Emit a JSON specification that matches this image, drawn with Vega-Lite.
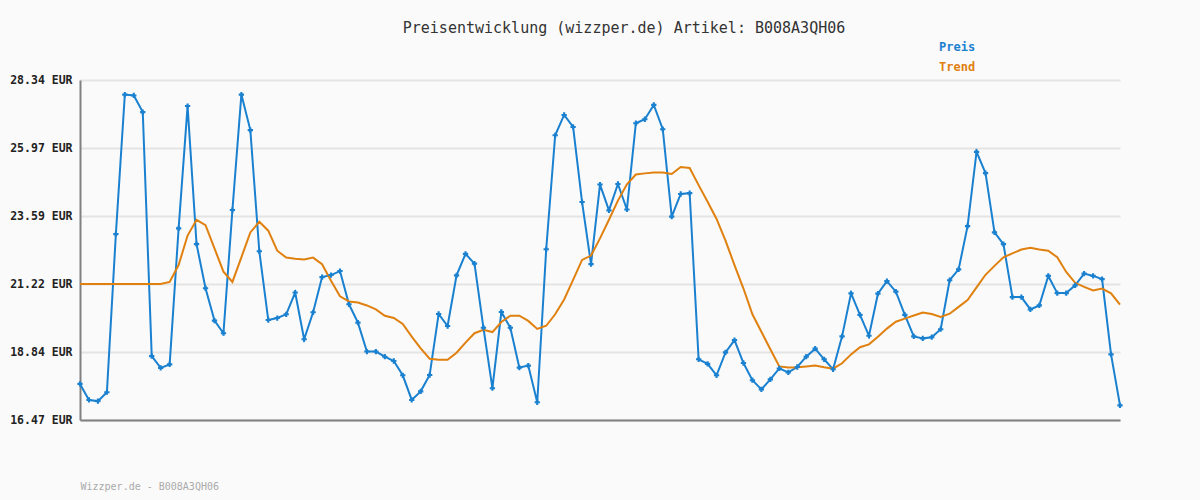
{
  "$schema": "https://vega.github.io/schema/vega-lite/v6.json",
  "autosize": "none",
  "width": 1040,
  "height": 340,
  "padding": {"left": 80, "top": 80, "right": 80, "bottom": 80},
  "background": "#fafafa",
  "title": {
    "text": "Preisentwicklung (wizzper.de) Artikel: B008A3QH06",
    "font": "DejaVu Sans Mono",
    "fontSize": 15,
    "fontWeight": "normal",
    "color": "#333333",
    "anchor": "middle",
    "dx": 24,
    "dy": -5,
    "offset": 0
  },
  "config": {
    "view": {"stroke": null},
    "axis": {"labelFont": "DejaVu Sans Mono", "titleFont": "DejaVu Sans Mono"}
  },
  "data": {
    "values": [
      {"i":0,"Preis":17.73,"Trend":21.22},
      {"i":1,"Preis":17.17,"Trend":21.22},
      {"i":2,"Preis":17.13,"Trend":21.22},
      {"i":3,"Preis":17.44,"Trend":21.22},
      {"i":4,"Preis":22.96,"Trend":21.22},
      {"i":5,"Preis":27.83,"Trend":21.22},
      {"i":6,"Preis":27.80,"Trend":21.22},
      {"i":7,"Preis":27.22,"Trend":21.22},
      {"i":8,"Preis":18.70,"Trend":21.22},
      {"i":9,"Preis":18.29,"Trend":21.22},
      {"i":10,"Preis":18.41,"Trend":21.29},
      {"i":11,"Preis":23.16,"Trend":21.88},
      {"i":12,"Preis":27.43,"Trend":22.91},
      {"i":13,"Preis":22.61,"Trend":23.46},
      {"i":14,"Preis":21.07,"Trend":23.27},
      {"i":15,"Preis":19.94,"Trend":22.46},
      {"i":16,"Preis":19.50,"Trend":21.65},
      {"i":17,"Preis":23.80,"Trend":21.29},
      {"i":18,"Preis":27.83,"Trend":22.15},
      {"i":19,"Preis":26.59,"Trend":23.02},
      {"i":20,"Preis":22.36,"Trend":23.39},
      {"i":21,"Preis":19.96,"Trend":23.08},
      {"i":22,"Preis":20.03,"Trend":22.38},
      {"i":23,"Preis":20.16,"Trend":22.14},
      {"i":24,"Preis":20.92,"Trend":22.10},
      {"i":25,"Preis":19.29,"Trend":22.07},
      {"i":26,"Preis":20.23,"Trend":22.14},
      {"i":27,"Preis":21.46,"Trend":21.91},
      {"i":28,"Preis":21.53,"Trend":21.33},
      {"i":29,"Preis":21.67,"Trend":20.79},
      {"i":30,"Preis":20.51,"Trend":20.61},
      {"i":31,"Preis":19.87,"Trend":20.57},
      {"i":32,"Preis":18.86,"Trend":20.47},
      {"i":33,"Preis":18.86,"Trend":20.33},
      {"i":34,"Preis":18.68,"Trend":20.11},
      {"i":35,"Preis":18.53,"Trend":20.03},
      {"i":36,"Preis":18.03,"Trend":19.82},
      {"i":37,"Preis":17.17,"Trend":19.38},
      {"i":38,"Preis":17.47,"Trend":18.97},
      {"i":39,"Preis":18.04,"Trend":18.61},
      {"i":40,"Preis":20.17,"Trend":18.57},
      {"i":41,"Preis":19.75,"Trend":18.57},
      {"i":42,"Preis":21.52,"Trend":18.82},
      {"i":43,"Preis":22.27,"Trend":19.17},
      {"i":44,"Preis":21.93,"Trend":19.50},
      {"i":45,"Preis":19.69,"Trend":19.62},
      {"i":46,"Preis":17.58,"Trend":19.54},
      {"i":47,"Preis":20.24,"Trend":19.89},
      {"i":48,"Preis":19.69,"Trend":20.11},
      {"i":49,"Preis":18.30,"Trend":20.11},
      {"i":50,"Preis":18.37,"Trend":19.93},
      {"i":51,"Preis":17.09,"Trend":19.65},
      {"i":52,"Preis":22.43,"Trend":19.76},
      {"i":53,"Preis":26.41,"Trend":20.16},
      {"i":54,"Preis":27.12,"Trend":20.68},
      {"i":55,"Preis":26.70,"Trend":21.36},
      {"i":56,"Preis":24.08,"Trend":22.06},
      {"i":57,"Preis":21.91,"Trend":22.21},
      {"i":58,"Preis":24.69,"Trend":22.81},
      {"i":59,"Preis":23.79,"Trend":23.46},
      {"i":60,"Preis":24.71,"Trend":24.13},
      {"i":61,"Preis":23.82,"Trend":24.70},
      {"i":62,"Preis":26.83,"Trend":25.04},
      {"i":63,"Preis":26.97,"Trend":25.08},
      {"i":64,"Preis":27.47,"Trend":25.11},
      {"i":65,"Preis":26.62,"Trend":25.11},
      {"i":66,"Preis":23.57,"Trend":25.06},
      {"i":67,"Preis":24.36,"Trend":25.30},
      {"i":68,"Preis":24.39,"Trend":25.27},
      {"i":69,"Preis":18.59,"Trend":24.67},
      {"i":70,"Preis":18.43,"Trend":24.09},
      {"i":71,"Preis":18.03,"Trend":23.49},
      {"i":72,"Preis":18.83,"Trend":22.73},
      {"i":73,"Preis":19.26,"Trend":21.88},
      {"i":74,"Preis":18.46,"Trend":21.06},
      {"i":75,"Preis":17.86,"Trend":20.16},
      {"i":76,"Preis":17.54,"Trend":19.55},
      {"i":77,"Preis":17.89,"Trend":18.94},
      {"i":78,"Preis":18.27,"Trend":18.34},
      {"i":79,"Preis":18.13,"Trend":18.30},
      {"i":80,"Preis":18.32,"Trend":18.31},
      {"i":81,"Preis":18.68,"Trend":18.34},
      {"i":82,"Preis":18.96,"Trend":18.37},
      {"i":83,"Preis":18.59,"Trend":18.31},
      {"i":84,"Preis":18.24,"Trend":18.26},
      {"i":85,"Preis":19.39,"Trend":18.45},
      {"i":86,"Preis":20.89,"Trend":18.76},
      {"i":87,"Preis":20.14,"Trend":19.01},
      {"i":88,"Preis":19.41,"Trend":19.11},
      {"i":89,"Preis":20.88,"Trend":19.38},
      {"i":90,"Preis":21.32,"Trend":19.66},
      {"i":91,"Preis":20.95,"Trend":19.90},
      {"i":92,"Preis":20.14,"Trend":20.01},
      {"i":93,"Preis":19.39,"Trend":20.12},
      {"i":94,"Preis":19.32,"Trend":20.22},
      {"i":95,"Preis":19.36,"Trend":20.17},
      {"i":96,"Preis":19.64,"Trend":20.07},
      {"i":97,"Preis":21.35,"Trend":20.18},
      {"i":98,"Preis":21.73,"Trend":20.42},
      {"i":99,"Preis":23.24,"Trend":20.66},
      {"i":100,"Preis":25.83,"Trend":21.10},
      {"i":101,"Preis":25.09,"Trend":21.54},
      {"i":102,"Preis":23.02,"Trend":21.85},
      {"i":103,"Preis":22.61,"Trend":22.15},
      {"i":104,"Preis":20.76,"Trend":22.29},
      {"i":105,"Preis":20.76,"Trend":22.42},
      {"i":106,"Preis":20.33,"Trend":22.48},
      {"i":107,"Preis":20.47,"Trend":22.42},
      {"i":108,"Preis":21.50,"Trend":22.38},
      {"i":109,"Preis":20.90,"Trend":22.15},
      {"i":110,"Preis":20.90,"Trend":21.64},
      {"i":111,"Preis":21.17,"Trend":21.26},
      {"i":112,"Preis":21.58,"Trend":21.12},
      {"i":113,"Preis":21.50,"Trend":20.99},
      {"i":114,"Preis":21.39,"Trend":21.06},
      {"i":115,"Preis":18.76,"Trend":20.89},
      {"i":116,"Preis":16.98,"Trend":20.50}
    ]
  },
  "transform": [{"fold": ["Preis", "Trend"], "as": ["serie", "wert"]}],
  "encoding": {
    "x": {
      "field": "i",
      "type": "quantitative",
      "scale": {"domain": [0, 116], "nice": false, "zero": false},
      "axis": {
        "title": "Wizzper.de - B008A3QH06",
        "titleFont": "DejaVu Sans Mono",
        "titleFontSize": 10,
        "titleFontWeight": "normal",
        "titleColor": "#aaaaaa",
        "titleAnchor": "start",
        "titlePadding": 61,
        "labels": false,
        "ticks": false,
        "grid": false,
        "domainColor": "#808080",
        "domainWidth": 2
      }
    },
    "y": {
      "field": "wert",
      "type": "quantitative",
      "scale": {"domain": [16.47, 28.34], "nice": false, "zero": false},
      "axis": {
        "title": null,
        "values": [16.47, 18.844, 21.218, 23.592, 25.966, 28.34],
        "labelExpr": "format(datum.value, '.2f') + ' EUR'",
        "labelFont": "DejaVu Sans Mono",
        "labelFontSize": 11.5,
        "labelFontWeight": "bold",
        "labelColor": "#222222",
        "labelPadding": 8,
        "ticks": false,
        "domainColor": "#808080",
        "domainWidth": 2,
        "gridColor": "#e4e4e4",
        "gridWidth": 2
      }
    },
    "color": {
      "field": "serie",
      "type": "nominal",
      "scale": {"domain": ["Preis", "Trend"], "range": ["#1a80d0", "#e0800f"]},
      "legend": {
        "title": null,
        "orient": "none",
        "legendX": 859,
        "legendY": -39,
        "symbolOpacity": 0,
        "symbolSize": 0,
        "symbolStrokeWidth": 0,
        "symbolOffset": -16,
        "labelFont": "DejaVu Sans Mono",
        "labelFontSize": 12,
        "labelFontWeight": "bold",
        "rowPadding": 8,
        "encode": {"labels": {"update": {"fill": {"scale": "color", "field": "label"}}}}
      }
    }
  },
  "layer": [
    {"mark": {"type": "line", "strokeWidth": 2}},
    {
      "transform": [{"filter": "datum.serie == 'Preis'"}],
      "mark": {"type": "point", "shape": "cross", "filled": true, "size": 28, "opacity": 1}
    }
  ]
}
